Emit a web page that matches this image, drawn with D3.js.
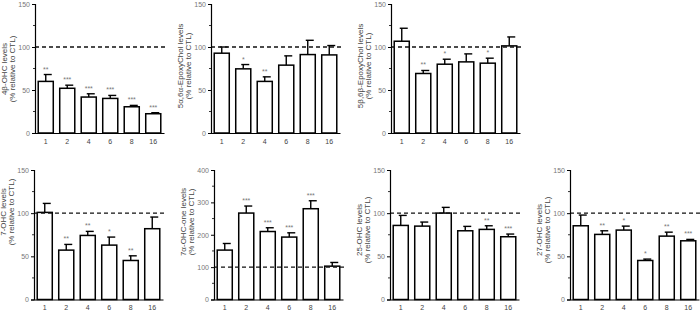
<!DOCTYPE html>
<html>
<head>
<meta charset="utf-8">
<script src="https://cdn.jsdelivr.net/npm/d3@7"></script>
<style>
  body { margin: 0; background: #fff; }
  svg { font-family: "Liberation Sans", Arial, sans-serif; }
</style>
</head>
<body>
<script>
// doses on the x axis
const doses = ["1", "2", "4", "6", "8", "16"];

// % relative to CTL, mean and upper error
const oh4bMean = [60, 52, 41.8, 40.2, 30.5, 22.4];
const oh4bErr  = [8, 3.6, 3.8, 3.5, 1.6, 1.2];
const oh4bStars = ["**", "***", "***", "***", "***", "***"];

const epoxAMean = [92.8, 74.6, 60, 78.9, 91.2, 90.8];
const epoxAErr  = [7.2, 5, 5.3, 10.8, 16.6, 10.9];
const epoxAStars = ["", "*", "**", "", "", ""];

const epoxBMean = [106.7, 69.2, 80, 82.7, 81.2, 101.3];
const epoxBErr  = [15.1, 3.5, 5.8, 9.3, 5.8, 10.4];
const epoxBStars = ["", "**", "*", "", "*", ""];

const oh7Mean = [100.9, 57.2, 74.2, 63, 45.2, 82];
const oh7Err  = [10.4, 6.6, 4.7, 9.3, 5.4, 13.5];
const oh7Stars = ["", "**", "**", "*", "**", ""];

const oh7oneMean = [152.6, 267, 210, 192.8, 280.4, 103];
const oh7oneErr  = [20.4, 21.7, 11.6, 13.2, 24.6, 11.4];
const oh7oneStars = ["", "***", "***", "***", "***", ""];

const oh25Mean = [85.8, 85, 100.1, 79.6, 81.2, 72.7];
const oh25Err  = [11.6, 4.7, 6.6, 5.1, 4.2, 3.1];
const oh25Stars = ["", "", "", "", "**", "***"];

const oh27Mean = [85.4, 75.4, 80.4, 45.2, 73.4, 68];
const oh27Err  = [12.4, 4.2, 4.6, 1.6, 4.6, 1.6];
const oh27Stars = ["", "**", "*", "*", "**", "***"];

const yTicks150 = [0, 50, 100, 150];
const yTicks400 = [0, 100, 200, 300, 400];

const panels = [
  {ax: 35,  top: 4,   bottom: 133,   max: 150, ticks: yTicks150, minor: 25, labelY: 69,  name: "4β-OHC levels", mean: oh4bMean, err: oh4bErr, stars: oh4bStars},
  {ax: 211, top: 4,   bottom: 133,   max: 150, ticks: yTicks150, minor: 25, labelY: 66,  name: "5α,6α-EpoxyChol levels", mean: epoxAMean, err: epoxAErr, stars: epoxAStars},
  {ax: 391, top: 4,   bottom: 133,   max: 150, ticks: yTicks150, minor: 25, labelY: 66,  name: "5β,6β-EpoxyChol levels", mean: epoxBMean, err: epoxBErr, stars: epoxBStars},
  {ax: 34,  top: 170, bottom: 299.5, max: 150, ticks: yTicks150, minor: 25, labelY: 212, name: "7-OHC levels", mean: oh7Mean, err: oh7Err, stars: oh7Stars},
  {ax: 214, top: 170, bottom: 299.5, max: 400, ticks: yTicks400, minor: 50, labelY: 222, name: "7α-OHC-one levels", mean: oh7oneMean, err: oh7oneErr, stars: oh7oneStars},
  {ax: 390, top: 170, bottom: 299.5, max: 150, ticks: yTicks150, minor: 25, labelY: 230, name: "25-OHC levels", mean: oh25Mean, err: oh25Err, stars: oh25Stars},
  {ax: 570, top: 170, bottom: 299.5, max: 150, ticks: yTicks150, minor: 25, labelY: 230, name: "27-OHC levels", mean: oh27Mean, err: oh27Err, stars: oh27Stars}
];

const plotW = 129;

const svg = d3.select("body").append("svg")
    .attr("width", 700)
    .attr("height", 311);

panels.forEach(p => {
    const x = d3.scaleBand().domain(doses).range([p.ax, p.ax + plotW])
        .paddingInner(0.3).paddingOuter(0.15);
    const y = d3.scaleLinear().domain([0, p.max]).range([p.bottom, p.top]);
    const g = svg.append("g");

    // error bars (upper only)
    const eb = g.selectAll("g.err").data(doses).enter().append("g");
    eb.append("line")
        .attr("x1", d => x(d) + x.bandwidth() / 2)
        .attr("x2", d => x(d) + x.bandwidth() / 2)
        .attr("y1", (d, i) => y(p.mean[i]))
        .attr("y2", (d, i) => y(p.mean[i] + p.err[i]))
        .attr("stroke", "#000").attr("stroke-width", 1.4);
    eb.append("line")
        .attr("x1", d => x(d) + x.bandwidth() / 2 - 2)
        .attr("x2", d => x(d) + x.bandwidth() / 2 + 6)
        .attr("y1", (d, i) => y(p.mean[i] + p.err[i]))
        .attr("y2", (d, i) => y(p.mean[i] + p.err[i]))
        .attr("stroke", "#000").attr("stroke-width", 1.4);

    // bars
    g.selectAll("rect").data(doses).enter().append("rect")
        .attr("x", d => x(d))
        .attr("y", (d, i) => y(p.mean[i]))
        .attr("width", x.bandwidth())
        .attr("height", (d, i) => y(0) - y(p.mean[i]))
        .attr("fill", "#fff")
        .attr("stroke", "#000").attr("stroke-width", 1.5);

    // dashed control line at 100 %
    g.append("line")
        .attr("x1", p.ax).attr("x2", p.ax + plotW + 3)
        .attr("y1", y(100)).attr("y2", y(100))
        .attr("stroke", "#111").attr("stroke-width", 1.3)
        .attr("stroke-dasharray", "4,3");

    // significance stars
    g.selectAll("text.star").data(doses).enter().append("text")
        .attr("class", "star")
        .attr("x", d => x(d) + x.bandwidth() / 2)
        .attr("y", (d, i) => y(p.mean[i] + p.err[i]) - 3)
        .attr("text-anchor", "middle")
        .attr("font-size", 7)
        .attr("fill", "#777")
        .text((d, i) => p.stars[i]);

    // y axis
    const yAxis = g.append("g")
        .attr("transform", "translate(" + p.ax + ",0)")
        .call(d3.axisLeft(y).tickValues(p.ticks).tickSize(3).tickPadding(2));
    yAxis.selectAll("text").attr("font-size", 7).attr("fill", "#777");
    yAxis.select(".domain").attr("stroke", "#000").attr("stroke-width", 1.2);
    yAxis.selectAll(".tick line").attr("stroke", "#000");
    g.selectAll("line.minor")
        .data(d3.range(p.minor, p.max, p.minor * 2))
        .enter().append("line")
        .attr("x1", p.ax - 2).attr("x2", p.ax)
        .attr("y1", d => y(d)).attr("y2", d => y(d))
        .attr("stroke", "#000").attr("stroke-width", 0.8);

    // x axis
    const xAxis = g.append("g")
        .attr("transform", "translate(0," + p.bottom + ")")
        .call(d3.axisBottom(x).tickSize(0).tickPadding(6));
    xAxis.selectAll("text").attr("font-size", 7).attr("fill", "#444");
    xAxis.select(".domain").attr("stroke", "#000").attr("stroke-width", 1.2);

    // y label, two lines
    const lab = g.append("text")
        .attr("transform", "translate(" + (p.ax - 28) + "," + p.labelY + ") rotate(-90)")
        .attr("text-anchor", "middle")
        .attr("font-size", 8)
        .attr("fill", "#444");
    lab.append("tspan").attr("x", 0).attr("dy", 0).text(p.name);
    lab.append("tspan").attr("x", 0).attr("dy", 8).text("(% relative to CTL)");
});
</script>
</body>
</html>
